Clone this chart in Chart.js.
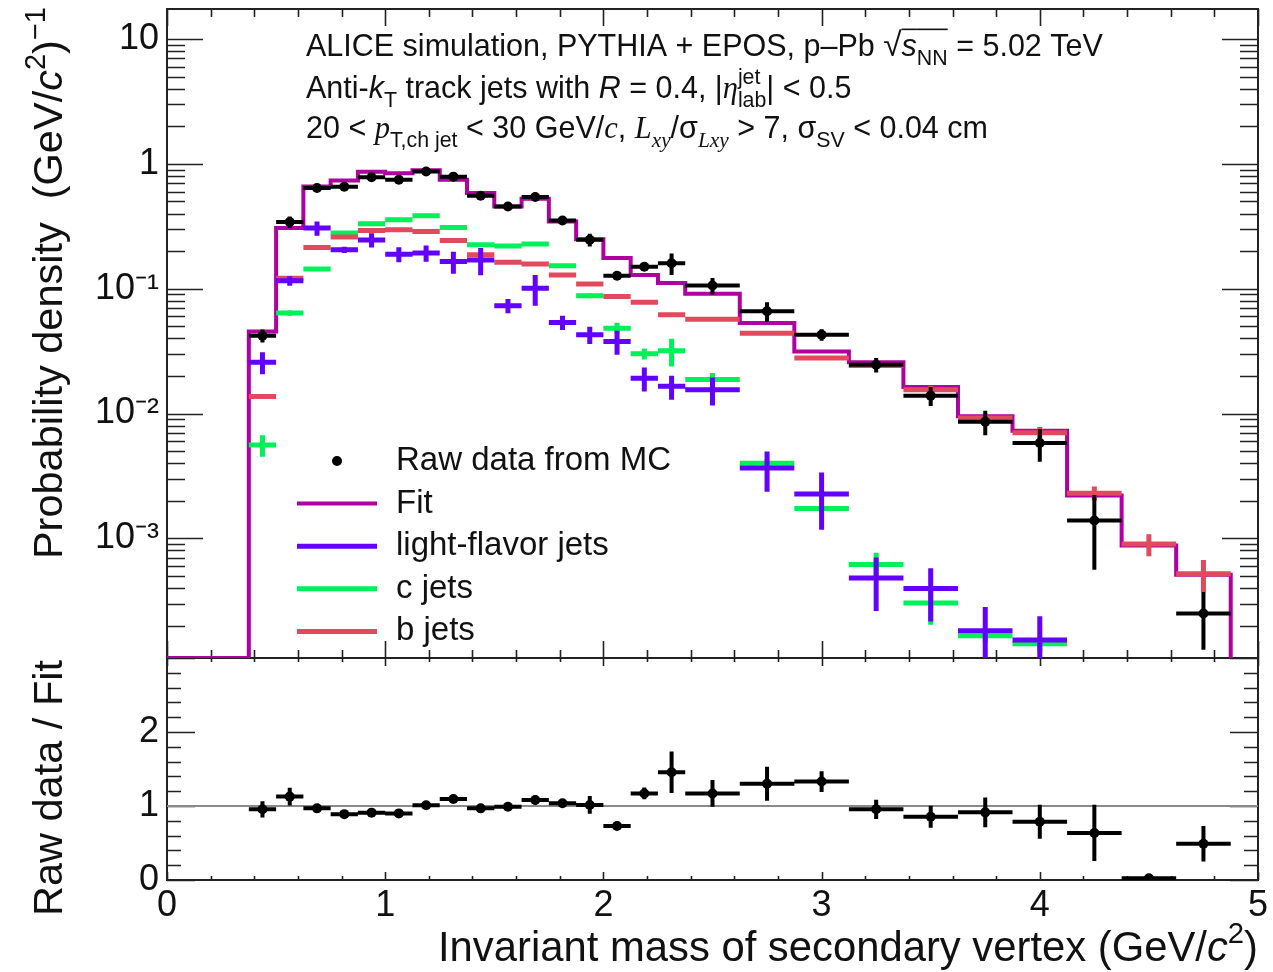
<!DOCTYPE html>
<html><head><meta charset="utf-8">
<script src="https://cdn.jsdelivr.net/npm/chart.js@4.4.0/dist/chart.umd.min.js"></script>
<style>
html,body{margin:0;padding:0;background:#fff;}
#wrap{position:relative;width:1273px;height:972px;overflow:hidden;background:#fff;}
#c1{position:absolute;left:0;top:0;}
#c2{position:absolute;left:0;top:650px;}
</style></head><body>
<div id="wrap"><canvas id="c2" width="1273" height="322"></canvas><canvas id="c1" width="1273" height="665"></canvas></div>
<script>
// ---------------- data ----------------
const binEdges = [0.375,0.5,0.625,0.75,0.875,1.0,1.125,1.25,1.375,1.5,1.625,1.75,1.875,2.0,2.125,2.25,2.375,2.625,2.875,3.125,3.375,3.625,3.875,4.125,4.375,4.625,4.875];
const rawData   = [0.042,0.342,0.64,0.655,0.78,0.745,0.868,0.79,0.555,0.455,0.543,0.352,0.247,0.127,0.150,0.160,0.106,0.066,0.0428,0.0246,0.0139,0.0086,0.0058,0.00139,0.00002,0.00025];
const rawErr    = [0.005,0.036,0.02,0.02,0.023,0.022,0.026,0.024,0.017,0.014,0.027,0.018,0.029,0.005,0.0075,0.031,0.016,0.012,0.0045,0.0033,0.0024,0.0019,0.0017,0.00083,0.00001,0.000122];
const fitValues = [0.0454,0.306,0.66,0.735,0.865,0.84,0.89,0.745,0.583,0.455,0.525,0.345,0.249,0.176,0.129,0.111,0.091,0.053,0.0314,0.0257,0.0163,0.0095,0.00728,0.0022,0.000875,0.00051];
const lightJets = [0.0258,0.1157,0.306,0.205,0.246,0.189,0.193,0.165,0.170,0.073,0.101,0.0536,0.0428,0.0378,0.0192,0.0165,0.0155,0.00366,0.00227,0.000482,0.000396,0.000182,0.000153,null,null,null];
const lightErr  = [0.0052,0.010,0.040,0.012,0.032,0.026,0.029,0.033,0.042,0.0095,0.028,0.007,0.0068,0.0083,0.0042,0.0036,0.0039,0.0013,0.0011,0.00022,0.00018,0.0001,0.000085,null,null,null];
const cJets     = [0.0056,0.0638,0.144,0.279,0.331,0.356,0.384,0.309,0.2245,0.220,0.2275,0.1525,0.0877,0.0483,0.0301,0.0318,0.0187,0.0040,0.00173,0.000616,0.000303,0.000166,0.000143,null,null,null];
const cErr      = [0.0011,0.003,0.005,0.007,0.008,0.008,0.009,0.008,0.007,0.007,0.007,0.005,0.004,0.005,0.003,0.008,0.0024,0.0003,0.0001,0.00015,0.0001,0.00002,0.00002,null,null,null];
const bJets     = [0.0137,0.1215,0.214,0.259,0.292,0.296,0.287,0.243,0.187,0.163,0.158,0.129,0.109,0.0866,0.078,0.0618,0.057,0.044,0.0278,0.0243,0.0155,0.0092,0.0070,0.0023,0.00090,0.00052];
const bErr      = [0.0006,0.003,0.004,0.005,0.005,0.005,0.005,0.005,0.004,0.004,0.004,0.003,0.003,0.002,0.002,0.002,0.0015,0.0012,0.0008,0.0007,0.0012,0.0008,0.0008,0.0003,0.00018,0.00015];
const ratioValues = [0.955,1.127,0.968,0.89,0.91,0.90,1.01,1.095,0.968,0.99,1.08,1.036,1.014,0.73,1.17,1.455,1.17,1.30,1.33,0.955,0.855,0.914,0.786,0.636,0.023,0.49];
const ratioErr    = [0.11,0.12,0.03,0.03,0.03,0.03,0.03,0.04,0.03,0.03,0.06,0.04,0.12,0.04,0.08,0.28,0.18,0.23,0.14,0.13,0.15,0.2,0.23,0.38,0.01,0.24];
const yTickValues = [10,1,0.1,0.01,0.001];
const yTickLabels = ['10','1','10\u207B\u00B9','10\u207B\u00B2','10\u207B\u00B3'];
const xTickValues = [0,1,2,3,4,5];
const xTickLabels = ['0','1','2','3','4','5'];
const ratioTickValues = [0,1,2];
const ratioTickLabels = ['0','1','2'];
const legendLabels = ['Raw data from MC','Fit','light-flavor jets','c jets','b jets'];

// ---------------- style ----------------
const SANS = '"Liberation Sans", Arial, Helvetica, sans-serif';
const SERIF = '"Liberation Serif", "Times New Roman", serif';
const COL = {data:'#000000', fit:'#af00a0', light:'#6400ff', c:'#00f05a', b:'#e14a5c', text:'#111111', frame:'#222222'};
const Y_MIN = 1.1e-4, Y_MAX = 17.4;

// ---------------- helpers building library data ----------------
const center = i => (binEdges[i] + binEdges[i+1]) / 2;
function barPts(vals){ const p=[]; vals.forEach((v,i)=>{ if(v==null) return; p.push({x:binEdges[i],y:v},{x:binEdges[i+1],y:v},{x:binEdges[i+1],y:null}); }); return p; }
function errPts(vals,errs){ const p=[]; vals.forEach((v,i)=>{ if(v==null) return; p.push({x:center(i),y:v-errs[i]},{x:center(i),y:v+errs[i]},{x:center(i),y:null}); }); return p; }
function ctrPts(vals){ return vals.map((v,i)=>({x:center(i),y:v})); }
function stepPts(vals, floor){ const p=[{x:0,y:floor}]; vals.forEach((v,i)=>p.push({x:binEdges[i],y:v})); p.push({x:binEdges[binEdges.length-1],y:floor}); return p; }
function lineDs(label, data, color, width, order, extra){
  return Object.assign({type:'line', label, data, borderColor:color, backgroundColor:color, borderWidth:width,
    pointRadius:0, pointHoverRadius:0, pointHitRadius:0, tension:0, fill:false, spanGaps:false, borderCapStyle:'butt', order}, extra||{});
}
function fixBox(w, h){
  return function(s){
    if (w!=null) s.width = w;
    if (h!=null) s.height = h;
    s.paddingTop = 0; s.paddingBottom = 0; s.paddingLeft = 0; s.paddingRight = 0;
  };
}

// ---------------- rich text ----------------
function fontStr(size, s){ return (s.it?'italic ':'') + size + 'px ' + (s.serif?SERIF:SANS); }
function drawRich(ctx, segs, x, y, base, align){
  const items = segs.map(s=>{
    if (s.stk){ const sz=base*0.7; ctx.font=fontStr(sz,s); const w=Math.max(ctx.measureText(s.stk[0]).width, ctx.measureText(s.stk[1]).width); return {s,w,sz}; }
    const sz = s.pos ? base*0.7 : base*(s.scale||1);
    ctx.font = fontStr(sz,s); return {s, w:ctx.measureText(s.t).width, sz};
  });
  const total = items.reduce((a,b)=>a+b.w,0);
  let cx = align==='right' ? x-total : x;
  ctx.textAlign='left'; ctx.textBaseline='alphabetic';
  items.forEach(({s,w,sz})=>{
    ctx.font = fontStr(sz,s);
    if (s.stk){ ctx.fillText(s.stk[0], cx, y-base*0.45); ctx.fillText(s.stk[1], cx, y+base*0.3); }
    else { const dy = s.pos==='sub'? base*0.28 : s.pos==='sup'? -base*0.42 : 0; ctx.fillText(s.t, cx, y+dy); }
    if (s.ol){ ctx.fillRect(cx, y-base*0.9, w, 1.6); }
    cx += w;
  });
  return total;
}

const frameTicks = {
  id:'frameTicks',
  beforeDatasetsDraw(chart){
    const o = chart.config.options.frameCfg;
    const {ctx, chartArea:a, scales} = chart;
    ctx.save();
    ctx.strokeStyle = COL.frame; ctx.lineWidth = 1.6; ctx.beginPath();
    scales.x.ticks.forEach(t=>{
      const px = Math.round(scales.x.getPixelForValue(t.value))+0.5;
      const maj = Math.abs(t.value-Math.round(t.value))<1e-6;
      const Lt = maj? o.xMajT : o.xMinT, Lb = maj? o.xMajB : o.xMinB;
      ctx.moveTo(px,a.top); ctx.lineTo(px,a.top+Lt);
      ctx.moveTo(px,a.bottom); ctx.lineTo(px,a.bottom-Lb);
    });
    scales.y.ticks.forEach(t=>{
      const py = Math.round(scales.y.getPixelForValue(t.value))+0.5;
      const maj = o.log ? Math.abs(Math.log10(t.value)-Math.round(Math.log10(t.value)))<1e-9 : Math.abs(t.value-Math.round(t.value))<1e-6;
      const L = maj? o.yMaj : o.yMin;
      ctx.moveTo(a.left,py); ctx.lineTo(a.left+L,py);
      ctx.moveTo(a.right,py); ctx.lineTo(a.right-L,py);
    });
    ctx.stroke();
    ctx.lineWidth = 2;
    ctx.strokeRect(a.left, a.top, a.right-a.left, a.bottom-a.top);
    ctx.restore();
  }
};

// ---------------- top panel ----------------
const topText = {
  id:'topText',
  afterDraw(chart){
    const ctx = chart.ctx; ctx.save(); ctx.fillStyle = COL.text;
    drawRich(ctx, [{t:'ALICE simulation, PYTHIA + EPOS, p\u2013Pb '},{t:'\u221A',scale:1.1},{t:'s',it:true,ol:true},{t:'NN',pos:'sub',ol:true},{t:' = 5.02 TeV'}], 306, 56, 30.5);
    drawRich(ctx, [{t:'Anti-'},{t:'k',it:true},{t:'T',pos:'sub'},{t:' track jets with '},{t:'R',it:true},{t:' = 0.4, |'},{t:'\u03B7',it:true,serif:true},{stk:['jet','lab']},{t:'| < 0.5'}], 306, 98, 30.5);
    drawRich(ctx, [{t:'20 < '},{t:'p',it:true,serif:true},{t:'T,ch jet',pos:'sub'},{t:' < 30 GeV/'},{t:'c',it:true,serif:true},{t:', '},{t:'L',it:true,serif:true},{t:'xy',it:true,serif:true,pos:'sub'},{t:'/\u03C3'},{t:'Lxy',it:true,serif:true,pos:'sub'},{t:' > 7, \u03C3'},{t:'SV',pos:'sub'},{t:' < 0.04 cm'}], 306, 138, 30.5);
    // y-axis title
    ctx.save(); ctx.translate(62, 7); ctx.rotate(-Math.PI/2);
    drawRich(ctx, [{t:'Probability density  (GeV/'},{t:'c',it:true},{t:'2',pos:'sup'},{t:')'},{t:'\u22121',pos:'sup'}], 0, 0, 41.5, 'right');
    ctx.restore();
    // legend
    const cols = [COL.data, COL.fit, COL.light, COL.c, COL.b];
    legendLabels.forEach((lab,i)=>{
      const ry = 461 + i*42.6;
      if (i===0){ ctx.beginPath(); ctx.arc(337, ry, 5, 0, Math.PI*2); ctx.fillStyle=COL.data; ctx.fill(); }
      else { ctx.strokeStyle = cols[i]; ctx.lineWidth = i===1?4:5; ctx.beginPath(); ctx.moveTo(297, ry); ctx.lineTo(377, ry); ctx.stroke(); }
      ctx.fillStyle = COL.text; ctx.font = '33px '+SANS; ctx.textAlign='left'; ctx.textBaseline='alphabetic';
      ctx.fillText(lab, 396, ry+9);
    });
    ctx.restore();
  }
};

new Chart(document.getElementById('c1'), {
  data:{ datasets:[
    lineDs('Raw data from MC', ctrPts(rawData), COL.data, 0, 0, {showLine:false, pointRadius:5, pointBackgroundColor:COL.data, pointBorderWidth:0}),
    lineDs('raw x', barPts(rawData), COL.data, 4, 1),
    lineDs('raw y', errPts(rawData, rawErr), COL.data, 4, 1),
    lineDs('light-flavor jets', barPts(lightJets), COL.light, 5, 2),
    lineDs('light y', errPts(lightJets, lightErr), COL.light, 5, 2),
    lineDs('b jets', barPts(bJets), COL.b, 5, 3),
    lineDs('b y', errPts(bJets, bErr), COL.b, 5, 3),
    lineDs('c jets', barPts(cJets), COL.c, 5, 4),
    lineDs('c y', errPts(cJets, cErr), COL.c, 5, 4),
    lineDs('Fit', stepPts(fitValues, Y_MIN), COL.fit, 4, 5, {stepped:'before'})
  ]},
  options:{
    responsive:false, animation:false, devicePixelRatio:1, events:[],
    layout:{padding:{left:0,right:15,top:9,bottom:7}, autoPadding:false},
    plugins:{legend:{display:false}, tooltip:{enabled:false}},
    frameCfg:{log:true, xMajT:17, xMinT:8, xMajB:17, xMinB:8, yMaj:36, yMin:18},
    scales:{
      x:{type:'linear', min:0, max:5, ticks:{stepSize:0.2, display:false}, grid:{display:false, drawTicks:false}, border:{display:false}, afterFit:fixBox(null,0)},
      y:{type:'logarithmic', min:Y_MIN, max:Y_MAX,
         afterBuildTicks(s){ const t=[]; for(let e=-4;e<=1;e++) for(let m=1;m<=9;m++){ const v=m*Math.pow(10,e); if(v>=Y_MIN && v<=Y_MAX) t.push({value:v}); } s.ticks=t; },
         ticks:{autoSkip:false, padding:8, color:COL.text, font:{family:SANS, size:36},
           callback(v){ const j=yTickValues.findIndex(d=>Math.abs(Math.log10(d)-Math.log10(v))<1e-9); return j>=0? yTickLabels[j] : ''; }},
         grid:{display:false, drawTicks:false}, border:{display:false}, afterFit:fixBox(167,null)}
    }
  },
  plugins:[frameTicks, topText]
});

// ---------------- ratio panel ----------------
const botText = {
  id:'botText',
  afterDraw(chart){
    const ctx = chart.ctx; ctx.save(); ctx.fillStyle = COL.text;
    drawRich(ctx, [{t:'Invariant mass of secondary vertex (GeV/'},{t:'c',it:true},{t:'2',pos:'sup'},{t:')'}], 1258, 311, 41.8, 'right');
    ctx.save(); ctx.translate(62, 10); ctx.rotate(-Math.PI/2);
    drawRich(ctx, [{t:'Raw data / Fit'}], 0, 0, 41.5, 'right');
    ctx.restore();
    ctx.restore();
  }
};

new Chart(document.getElementById('c2'), {
  data:{ datasets:[
    lineDs('ratio', ctrPts(ratioValues), COL.data, 0, 0, {showLine:false, pointRadius:5, pointBackgroundColor:COL.data, pointBorderWidth:0}),
    lineDs('ratio x', barPts(ratioValues), COL.data, 4, 1),
    lineDs('ratio y', errPts(ratioValues, ratioErr), COL.data, 4, 1),
    lineDs('unity', [{x:xTickValues[0],y:1},{x:xTickValues[xTickValues.length-1],y:1}], '#8a8a8a', 2, 2)
  ]},
  options:{
    responsive:false, animation:false, devicePixelRatio:1, events:[],
    layout:{padding:{left:0,right:15,top:8,bottom:0}, autoPadding:false},
    plugins:{legend:{display:false}, tooltip:{enabled:false}},
    frameCfg:{log:false, xMajT:8, xMinT:4, xMajB:8, xMinB:4, yMaj:28, yMin:14},
    scales:{
      x:{type:'linear', min:0, max:5,
         ticks:{stepSize:0.2, autoSkip:false, maxRotation:0, padding:4, color:COL.text, font:{family:SANS, size:36},
           callback(v){ const j=xTickValues.findIndex(d=>Math.abs(d-v)<1e-6); return j>=0? xTickLabels[j] : ''; }},
         grid:{display:false, drawTicks:false}, border:{display:false}, afterFit:fixBox(null,92)},
      y:{type:'linear', min:0, max:3,
         ticks:{stepSize:0.2, autoSkip:false, padding:8, color:COL.text, font:{family:SANS, size:36},
           callback(v){ const j=ratioTickValues.findIndex(d=>Math.abs(d-v)<1e-6); return j>=0? ratioTickLabels[j] : ''; }},
         grid:{display:false, drawTicks:false}, border:{display:false}, afterFit:fixBox(167,null)}
    }
  },
  plugins:[frameTicks, botText]
});
</script>
</body></html>
